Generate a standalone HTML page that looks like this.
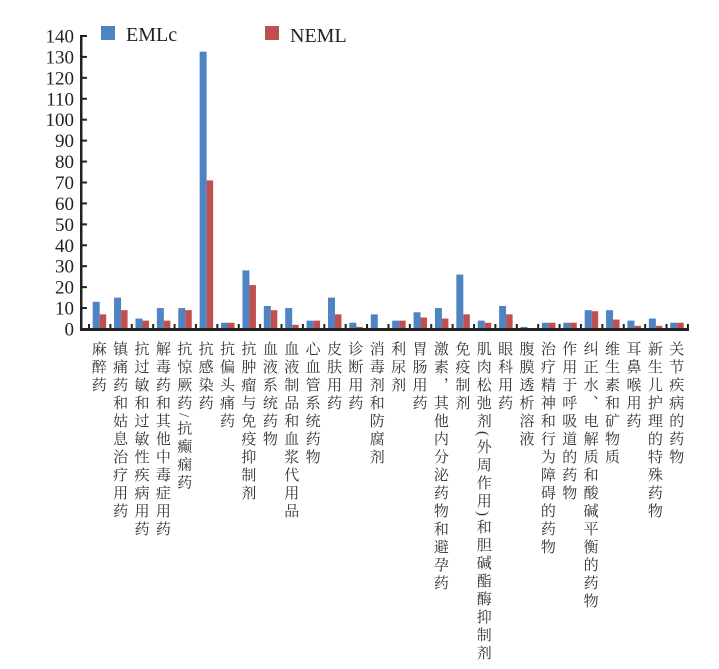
<!DOCTYPE html>
<html><head><meta charset="utf-8"><style>
html,body{margin:0;padding:0;background:#fff;width:719px;height:669px;overflow:hidden;position:relative}
svg{position:absolute;left:0;top:0}
.lb{position:absolute;top:341px;writing-mode:vertical-rl;font-family:"Liberation Serif","Noto Serif CJK SC",serif;font-size:15px;letter-spacing:3px;line-height:18px;color:#333;width:18px;white-space:nowrap}
</style></head><body>
<svg width="719" height="669" xmlns="http://www.w3.org/2000/svg" font-family="Liberation Serif, serif">
<rect x="101" y="26" width="14" height="14" fill="#4e84c4"/>
<text x="126" y="41" font-size="20" fill="#222">EMLc</text>
<rect x="265" y="26" width="14" height="14" fill="#c0504d"/>
<text x="290" y="42" font-size="20" fill="#222">NEML</text>
<g id="bars"></g>
<g id="ax" fill="#222" font-size="19" text-anchor="end"></g>
</svg>
<div id="labels"></div>
<script>
const cats=[["麻醉药",13,7],["镇痛药和姑息治疗用药",15,9],["抗过敏和过敏性疾病用药",5,4],["解毒药和其他中毒症用药",10,4],["抗惊厥药/抗癫痫药",10,9],["抗感染药",132.5,71],["抗偏头痛药",3,3],["抗肿瘤与免疫抑制剂",28,21],["血液系统药物",11,9],["血液制品和血浆代用品",10,2],["心血管系统药物",4,4],["皮肤用药",15,7],["诊断用药",3,1],["消毒剂和防腐剂",7,0],["利尿剂",4,4],["胃肠用药",8,5.5],["激素，其他内分泌药物和避孕药",10,5],["免疫制剂",26,7],["肌肉松弛剂(外周作用)和胆碱酯酶抑制剂",4,3],["眼科用药",11,7],["腹膜透析溶液",1,0],["治疗精神和行为障碍的药物",3,3],["作用于呼吸道的药物",3,3],["纠正水、电解质和酸碱平衡的药物",9,8.5],["维生素和矿物质",9,4.5],["耳鼻喉用药",4,1.5],["新生儿护理的特殊药物",5,1.5],["关节疾病的药物",3,3]];
const y0=329,k=2.093,x0=89,w=21.39;
let s="",a="",L="";
cats.forEach((c,i)=>{const cx=x0+w*(i+0.5);
 s+=`<rect x="${cx-7}" y="${y0-c[1]*k}" width="7" height="${c[1]*k}" fill="#4e84c4"/>`;
 if(c[2]>0)s+=`<rect x="${cx}" y="${y0-c[2]*k}" width="6.5" height="${c[2]*k}" fill="#c0504d"/>`;
 L+=`<div class="lb" style="left:${cx-11}px">${c[0]}</div>`;});
for(let i=0;i<=28;i++){const x=x0+w*i;a+=`<rect x="${x-1}" y="${y0-5}" width="2" height="5"/>`;}
a+=`<rect x="80" y="${y0-1}" width="609" height="3"/><rect x="80" y="35" width="2.5" height="295"/>`;
for(let v=0;v<=140;v+=10){const y=y0-v*k;a+=`<rect x="81" y="${y-1}" width="6" height="2"/><text x="74" y="${y+6.5}">${v}</text>`;}
document.getElementById("bars").innerHTML=s;document.getElementById("ax").innerHTML=a;document.getElementById("labels").innerHTML=L;
</script>
</body></html>
